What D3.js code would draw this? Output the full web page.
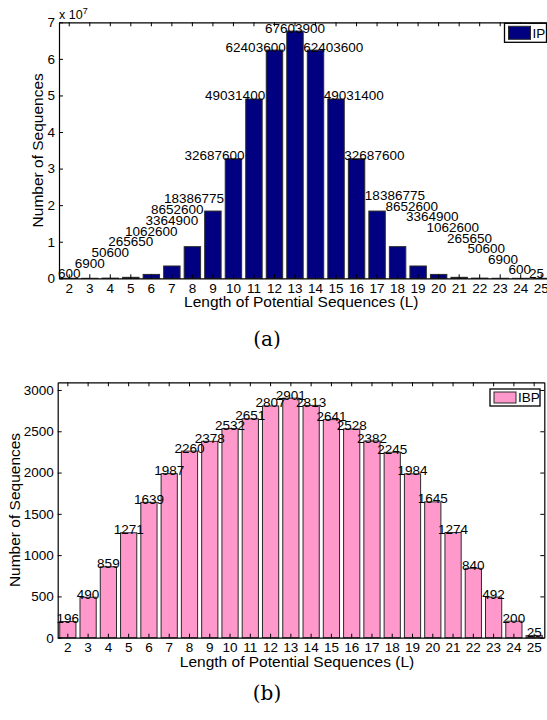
<!DOCTYPE html>
<html>
<head>
<meta charset="utf-8">
<script src="https://cdn.jsdelivr.net/npm/d3@7"></script>
<style>
  html, body { margin: 0; padding: 0; background: #fff; }
  svg { display: block; font-family: "Liberation Sans", Arial, Helvetica, sans-serif; }
</style>
</head>
<body>
<svg id="chart" width="547" height="720"></svg>
<script>
// ---- data ----
const categories = [2,3,4,5,6,7,8,9,10,11,12,13,14,15,16,17,18,19,20,21,22,23,24,25];
const ipValues = [600, 6900, 50600, 265650, 1062600, 3364900, 8652600, 18386775, 32687600, 49031400, 62403600, 67603900,
                  62403600, 49031400, 32687600, 18386775, 8652600, 3364900, 1062600, 265650, 50600, 6900, 600, 25];
const ibpValues = [196, 490, 859, 1271, 1639, 1987, 2260, 2378, 2532, 2651, 2807, 2901,
                   2813, 2641, 2528, 2382, 2245, 1984, 1645, 1274, 840, 492, 200, 25];
const ipTicks = [0, 1, 2, 3, 4, 5, 6, 7];            // x 10^7
const ibpTicks = [0, 500, 1000, 1500, 2000, 2500, 3000];
const xTitle = "Length of Potential Sequences (L)";
const yTitle = "Number of Sequences";

const svg = d3.select("#chart");
const FS = 13.5;

function drawPanel(cfg) {
  const { left, right, top, bottom, yMax, values, ticks, tickScale, color, legend, legendBox, labelMode, caption } = cfg;
  const g = svg.append("g");
  const x = d3.scaleBand().domain(categories).range([left, right]).paddingInner(0.2).paddingOuter(0.1);
  const y = d3.scaleLinear().domain([0, yMax]).range([bottom, top]);
  const data = categories.map((c, i) => ({ c, v: values[i], i }));

  // bars
  g.selectAll("rect.bar").data(data).enter().append("rect")
    .attr("class", "bar")
    .attr("x", d => x(d.c))
    .attr("width", x.bandwidth())
    .attr("y", d => y(d.v))
    .attr("height", d => Math.max(0, bottom - y(d.v)))
    .attr("fill", color)
    .attr("stroke", "#2a2a2a")
    .attr("stroke-width", 1);

  // axes
  const fmtY = v => tickScale ? String(v / tickScale) : String(v);
  const yTickVals = ticks.map(t => t * (tickScale || 1));
  const axB = d3.axisBottom(x).tickSizeInner(-4).tickSizeOuter(0).tickPadding(5);
  const axT = d3.axisTop(x).tickSizeInner(-4).tickSizeOuter(0).tickFormat("");
  const axL = d3.axisLeft(y).tickValues(yTickVals).tickFormat(fmtY).tickSizeInner(-4).tickSizeOuter(0).tickPadding(4);
  const axR = d3.axisRight(y).tickValues(yTickVals).tickFormat("").tickSizeInner(-4).tickSizeOuter(0);

  const style = sel => {
    sel.selectAll("path.domain").attr("stroke", "#000").attr("stroke-width", 1.2);
    sel.selectAll(".tick line").attr("stroke", "#000");
    sel.selectAll("text").attr("font-size", FS).attr("fill", "#000").attr("font-family", "Liberation Sans, Arial, sans-serif");
  };
  g.append("g").attr("transform", `translate(0,${bottom})`).call(axB).call(style);
  g.append("g").attr("transform", `translate(0,${top})`).call(axT).call(style);
  g.append("g").attr("transform", `translate(${left},0)`).call(axL).call(style);
  g.append("g").attr("transform", `translate(${right},0)`).call(axR).call(style);

  // value labels
  data.forEach(d => {
    const cx = x(d.c) + x.bandwidth() / 2;
    const barTop = y(d.v) + 1.5;
    let tx = cx, anchor = "middle", ty = barTop;
    if (labelMode === "stair") {
      const n = categories.length;
      if (d.i < 11) {
        const stair = bottom - d.i * 10.7;
        ty = Math.min(stair, barTop);
        if (d.i >= 6) { anchor = "end"; tx = x(d.c) + x.bandwidth() + 3; }
      } else if (d.i > 11) {
        const k = n - 2 - d.i;
        const stair = k >= 0 ? bottom - 4 - k * 10.6 : bottom;
        ty = Math.min(stair, barTop);
        anchor = "start"; tx = x(d.c) - 4;
      }
    }
    g.append("text").attr("x", tx).attr("y", ty).attr("text-anchor", anchor)
      .attr("font-size", FS).attr("fill", "#000").text(d.v);
  });

  // axis titles
  g.append("text").attr("x", (left + right) / 2 - 4).attr("y", bottom + 29)
    .attr("text-anchor", "middle").attr("font-size", 15.5).text(xTitle);
  g.append("text").attr("transform", `translate(${cfg.yTitleX},${(top + bottom) / 2}) rotate(-90)`)
    .attr("text-anchor", "middle").attr("font-size", 15.5).text(yTitle);

  // legend
  const lb = legendBox;
  const lg = g.append("g");
  lg.append("rect").attr("x", right - lb.offR - lb.w).attr("y", top + lb.offT).attr("width", lb.w).attr("height", lb.h)
    .attr("fill", "#fff").attr("stroke", "#000").attr("stroke-width", 1.3);
  lg.append("rect").attr("x", right - lb.offR - lb.w + 4).attr("y", top + lb.offT + 3).attr("width", 22).attr("height", lb.h - 6)
    .attr("fill", color).attr("stroke", "#2a2a2a").attr("stroke-width", 1);
  lg.append("text").attr("x", right - lb.offR - lb.w + 28).attr("y", top + lb.offT + lb.h / 2 + 4.8)
    .attr("font-size", FS).text(legend);

  // caption
  svg.append("text").attr("x", 267).attr("y", caption.y).attr("text-anchor", "middle")
    .attr("font-family", "'DejaVu Serif', 'Liberation Serif', serif").attr("font-size", 20).text(caption.text);
}

drawPanel({
  left: 59, right: 551.5, top: 22.3, bottom: 278.3, yMax: 7e7,
  values: ipValues, ticks: ipTicks, tickScale: 1e7, color: "#000080",
  legend: "IP", legendBox: { w: 42, h: 19, offR: 5, offT: 1 },
  labelMode: "stair", yTitleX: 42.5, caption: { text: "(a)", y: 346 }
});
// exponent label
const ex = svg.append("text").attr("x", 59).attr("y", 19).attr("font-size", 12.5);
ex.append("tspan").text("x 10");
ex.append("tspan").attr("font-size", 9).attr("dy", -5).text("7");

drawPanel({
  left: 57.7, right: 544.3, top: 382.3, bottom: 637.7, yMax: 3093,
  values: ibpValues, ticks: ibpTicks, tickScale: null, color: "#ff99cc",
  legend: "IBP", legendBox: { w: 50, h: 17, offR: 4.3, offT: 6.7 },
  labelMode: "center", yTitleX: 19.5, caption: { text: "(b)", y: 700 }
});
</script>
</body>
</html>
